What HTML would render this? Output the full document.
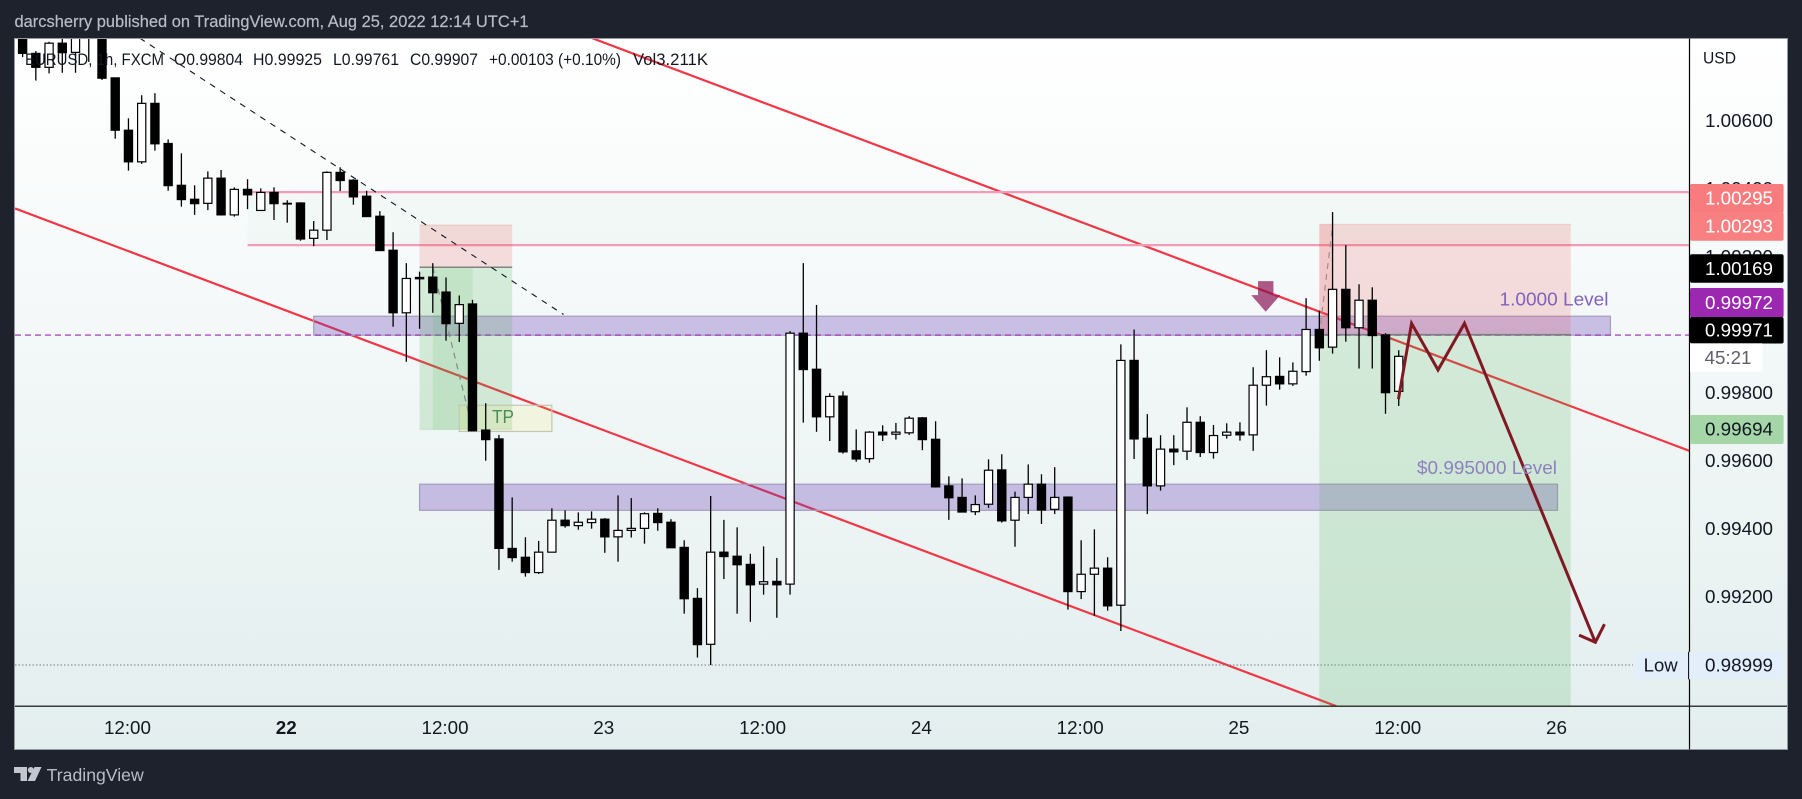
<!DOCTYPE html>
<html lang="en">
<head>
<meta charset="utf-8">
<title>EURUSD chart</title>
<style>
html,body{margin:0;padding:0;background:#1e222d;width:1802px;height:799px;overflow:hidden}
svg{display:block;font-family:"Liberation Sans",Arial,sans-serif}
</style>
</head>
<body>
<svg id="chart" xmlns="http://www.w3.org/2000/svg" width="1802" height="799" viewBox="0 0 1802 799">
  <defs>
    <linearGradient id="panelGrad" x1="0" y1="0" x2="0" y2="1">
      <stop offset="0" stop-color="#ffffff"/>
      <stop offset="1" stop-color="#e3eeee"/>
    </linearGradient>
    <clipPath id="plotClip"><rect x="15" y="39" width="1674" height="667"/></clipPath>
  </defs>
  <rect x="0" y="0" width="1802" height="799" fill="#1e222d"/>
  <text x="14.5" y="27" font-size="17" fill="#b9bcc5" stroke="#b9bcc5" stroke-width="0.2" textLength="514" lengthAdjust="spacingAndGlyphs">darcsherry published on TradingView.com, Aug 25, 2022 12:14 UTC+1</text>
  <rect x="14.5" y="38.5" width="1773" height="711" fill="url(#panelGrad)" stroke="#9598a1" stroke-width="1"/>
  <g id="ticksLayer"></g>
  <g id="timeLayer"></g>
  <g id="drawLayer" clip-path="url(#plotClip)"></g>
  <g id="candleLayer" clip-path="url(#plotClip)"></g>
  <g id="overLayer" clip-path="url(#plotClip)"></g>

  <g font-size="17" fill="#131722">
    <text x="25" y="65" textLength="139" lengthAdjust="spacingAndGlyphs">EURUSD, 1h, FXCM</text>
    <text x="174" y="65" textLength="69" lengthAdjust="spacingAndGlyphs">O0.99804</text>
    <text x="253" y="65" textLength="69" lengthAdjust="spacingAndGlyphs">H0.99925</text>
    <text x="333" y="65" textLength="66" lengthAdjust="spacingAndGlyphs">L0.99761</text>
    <text x="410" y="65" textLength="68" lengthAdjust="spacingAndGlyphs">C0.99907</text>
    <text x="489" y="65" textLength="132" lengthAdjust="spacingAndGlyphs">+0.00103 (+0.10%)</text>
    <text x="633" y="65" textLength="75" lengthAdjust="spacingAndGlyphs">Vol3.211K</text>
  </g>

  <text x="503" y="423" font-size="18" text-anchor="middle" fill="#4c8c57" textLength="22" lengthAdjust="spacingAndGlyphs">TP</text>
  <text x="1499.5" y="305.5" font-size="18" fill="#8062ba" textLength="109" lengthAdjust="spacingAndGlyphs">1.0000 Level</text>
  <text x="1417" y="474" font-size="18" fill="#8f80c0" textLength="140" lengthAdjust="spacingAndGlyphs">$0.995000 Level</text>

  <line x1="1689.5" y1="38.5" x2="1689.5" y2="749.5" stroke="#000" stroke-width="1.2"/>
  <line x1="15" y1="706.2" x2="1787" y2="706.2" stroke="#000" stroke-width="1.2"/>

  <text x="1703" y="63.5" font-size="17" fill="#131722" textLength="33" lengthAdjust="spacingAndGlyphs">USD</text>

  <g font-size="18" text-anchor="middle">
    <rect x="1690" y="184" width="93.6" height="29" rx="2" fill="#f87c7e"/>
    <text x="1739" y="204.6" fill="#ffffff" textLength="68" lengthAdjust="spacingAndGlyphs">1.00295</text>
    <rect x="1690" y="212" width="93.6" height="28.7" rx="2" fill="#f98080"/>
    <text x="1739" y="232.6" fill="#ffffff" textLength="68" lengthAdjust="spacingAndGlyphs">1.00293</text>
    <rect x="1690" y="254.3" width="93.6" height="28.4" rx="2" fill="#000000"/>
    <text x="1739" y="274.8" fill="#ffffff" textLength="68" lengthAdjust="spacingAndGlyphs">1.00169</text>
    <rect x="1690" y="288" width="93.6" height="29.5" rx="2" fill="#9c27b0"/>
    <text x="1739" y="309" fill="#ffffff" textLength="68" lengthAdjust="spacingAndGlyphs">0.99972</text>
    <rect x="1690" y="317" width="93.6" height="26.5" rx="2" fill="#000000"/>
    <text x="1739" y="336.3" fill="#ffffff" textLength="68" lengthAdjust="spacingAndGlyphs">0.99971</text>
    <rect x="1690" y="343.3" width="72.4" height="28.4" fill="#ffffff"/>
    <text x="1728" y="363.8" fill="#5d606b" textLength="47" lengthAdjust="spacingAndGlyphs">45:21</text>
    <rect x="1690" y="415" width="93.6" height="29" rx="2" fill="#a5d6a7"/>
    <text x="1739" y="435.7" fill="#131722" textLength="68" lengthAdjust="spacingAndGlyphs">0.99694</text>
    <rect x="1633.8" y="651.7" width="149.8" height="27.6" rx="2" fill="#e3eefb"/>
    <text x="1660.7" y="671.6" fill="#131722" textLength="34" lengthAdjust="spacingAndGlyphs">Low</text>
    <text x="1739" y="671.6" fill="#131722" textLength="68" lengthAdjust="spacingAndGlyphs">0.98999</text>
    <line x1="1688.6" y1="651.7" x2="1688.6" y2="679.3" stroke="#000" stroke-width="1"/>
  </g>

  <g>
    <g fill="#c3c6ce">
      <polygon points="14,767 27,767 27,781 20.5,781 20.5,773 14,773"/>
      <circle cx="30.8" cy="770" r="3"/>
      <polygon points="34.5,767 41.5,767 35,781 27.5,781"/>
    </g>
    <text x="46.7" y="781" font-size="17.5" fill="#b9bcc5" textLength="97" lengthAdjust="spacingAndGlyphs">TradingView</text>
  </g>
</svg>

<script>
// ---- chart data ----
const openPrices = [
1.00896,1.00798,1.00757,1.00828,1.00801,1.00926,1.00881,1.00726,1.00572,1.00479,
1.00651,1.00533,1.00410,1.00369,1.00357,1.00431,1.00323,1.00398,1.00336,1.00389,
1.00357,1.00358,1.00254,1.00278,1.00448,1.00425,1.00378,1.00319,1.00219,1.00035,
1.00139,1.00140,1.00096,1.00004,1.00061,.99690,.99664,.99342,.99316,.99271,
.99331,.99425,.99409,.99418,.99428,.99376,.99395,.99401,.99445,.99419,
.99345,.99195,.99060,.99331,.99319,.99295,.99237,.99245,.99237,.99975,
.99869,.99729,.99790,.99629,.99606,.99684,.99678,.99682,.99726,.99663,
.99526,.99492,.99450,.99472,.99573,.99425,.99492,.99531,.99457,.99493,
.99215,.99266,.99284,.99175,.99895,.99666,.99526,.99634,.99628,.99713,
.99624,.99675,.99684,.99676,.99822,.99848,.99826,.99862,.99986,.99934,
1.00104,.99991,1.00072,.99970,.99804];
const closePrices = [
1.00798,1.00757,1.00828,1.00800,1.00867,1.00873,1.00725,1.00572,1.00479,1.00651,
1.00532,1.00409,1.00368,1.00356,1.00431,1.00323,1.00398,1.00382,1.00389,1.00356,
1.00355,1.00252,1.00278,1.00448,1.00424,1.00376,1.00318,1.00218,1.00035,1.00136,
1.00135,1.00094,1.00003,1.00059,.99688,.99662,.99342,.99315,.99271,.99331,
.99425,.99409,.99419,.99428,.99376,.99395,.99401,.99444,.99418,.99344,
.99194,.99059,.99331,.99318,.99294,.99235,.99244,.99235,.99975,.99868,
.99729,.99789,.99626,.99605,.99684,.99676,.99684,.99725,.99662,.99523,
.99491,.99449,.99471,.99572,.99423,.99492,.99531,.99455,.99492,.99215,
.99266,.99284,.99173,.99895,.99664,.99526,.99634,.99626,.99713,.99624,
.99674,.99684,.99676,.99822,.99847,.99826,.99863,.99986,.99932,1.00104,
.99991,1.00072,.99968,.99800,.99907];
const highPrices = [
1.00926,1.00805,1.00832,1.00867,1.00896,1.00940,1.00911,1.00727,1.00607,1.00675,
1.00681,1.00545,1.00504,1.00410,1.00451,1.00455,1.00404,1.00428,1.00401,1.00404,
1.00366,1.00360,1.00305,1.00451,1.00463,1.00428,1.00394,1.00334,1.00272,1.00181,
1.00156,1.00181,1.00139,1.00086,1.00073,.99769,.99676,.99492,.99375,.99364,
.99460,.99454,.99448,.99451,.99431,.99498,.99490,.99448,.99460,.99428,
.99366,.99225,.99496,.99426,.99404,.99326,.99348,.99314,.99981,1.00181,
1.00058,.99798,.99804,.99692,.99687,.99704,.99711,.99731,.99728,.99716,
.99554,.99548,.99498,.99604,.99619,.99509,.99589,.99560,.99581,.99495,
.99366,.99398,.99316,.99942,.99986,.99737,.99675,.99675,.99757,.99731,
.99705,.99710,.99713,.99875,.99925,.99904,.99889,1.00078,1.00041,1.00331,
1.00234,1.00119,1.00110,.99975,.99925];
const lowPrices = [
1.00787,1.00718,1.00739,1.00741,1.00741,1.00773,1.00720,1.00547,1.00453,1.00473,
1.00512,1.00394,1.00347,1.00323,1.00337,1.00321,1.00318,1.00340,1.00336,1.00308,
1.00300,1.00247,1.00231,1.00249,1.00393,1.00353,1.00318,1.00218,.99994,.99891,
.99988,1.00035,.99953,.99949,.99688,.99600,.99279,.99303,.99259,.99267,
.99331,.99403,.99397,.99400,.99329,.99303,.99374,.99356,.99394,.99344,
.99150,.99021,.98999,.99252,.99150,.99126,.99206,.99138,.99206,.99712,
.99685,.99658,.99621,.99597,.99594,.99658,.99662,.99676,.99631,.99521,
.99426,.99449,.99440,.99461,.99418,.99347,.99443,.99414,.99443,.99162,
.99193,.99144,.99159,.99099,.99605,.99443,.99512,.99587,.99602,.99611,
.99606,.99665,.99659,.99629,.99762,.99809,.99820,.99850,.99894,.99915,
.99950,.99871,.99871,.99738,.99761];

const priceTicks = [1.006,1.004,1.002,1.000,0.998,0.996,0.994,0.992,0.990];
const timeTickBars = [8,20,32,44,56,68,80,92,104,116];
const timeTickLabels = ["12:00","22","12:00","23","12:00","24","12:00","25","12:00","26"];

// drawings, expressed in bar index / price
const purpleZoneBars = [22,120,30,116];
const purpleZonePrices = [1.00025,0.99969,0.99531,0.99454];
const resistanceBandBars = [17,126.5];
const resistanceBandPrices = [1.00390,1.00234];
const shortBoxBars = [30,37,98,117];
const shortBoxPrices = [1.00293,1.00169,0.99692,1.00295,0.99971,0.98800];
const progressBars = [31,34,98,99];
const tpBoxBars = [33,40];
const tpBoxPrices = [0.99763,0.99686];
const currentPrice = 0.99971;
const lowPrice = 0.98999;
const dottedTrendBars = [8.85,40.88];
const dottedTrendPrices = [1.00843,1.00030];
const channelBars = [-0.574,99.28,43.03,125.97];
const channelPrices = [1.00342,0.98878,1.00843,0.99629];
const tradePath1Bars = [31,34];
const tradePath1Prices = [1.00169,0.99694];
const tradePath2Bars = [98,99];
const tradePath2Prices = [0.99971,1.00290];
const zigzagBars = [103.98,104.97,106.97,108.97,118.86];
const zigzagPrices = [0.99781,1.00004,0.99867,1.00004,0.99066];
const arrowHeadBars = [117.63,118.86,119.55];
const arrowHeadPrices = [0.99087,0.99066,0.99119];
const signalArrowBar = 93.95;
const signalArrowPrice = 1.00038;

// ---- axis functions ----
const SVGNS = 'http://www.w3.org/2000/svg';
const barX = b => 22.6 + 13.232 * b;
const priceY = p => 392.7 - (p - 0.998) * 34000;
const PLOT_L = 15, PLOT_R = 1689;

function mk(tag, attrs, parent){
  const e = document.createElementNS(SVGNS, tag);
  for (const k in attrs) e.setAttribute(k, attrs[k]);
  parent.appendChild(e);
  return e;
}
function rectBetween(b1, b2, p1, p2, attrs, parent){
  const x1 = barX(b1), x2 = barX(b2), y1 = priceY(p1), y2 = priceY(p2);
  return mk('rect', Object.assign({x:x1, y:Math.min(y1,y2), width:x2-x1, height:Math.abs(y2-y1)}, attrs), parent);
}
function lineBetween(b1, p1, b2, p2, attrs, parent){
  return mk('line', Object.assign({x1:barX(b1), y1:priceY(p1), x2:barX(b2), y2:priceY(p2)}, attrs), parent);
}
function pointsOf(bars, prices){
  return bars.map((b,i) => barX(b) + ',' + priceY(prices[i])).join(' ');
}

const ticksLayer = document.getElementById('ticksLayer');
const timeLayer = document.getElementById('timeLayer');
const drawLayer = document.getElementById('drawLayer');
const candleLayer = document.getElementById('candleLayer');
const overLayer = document.getElementById('overLayer');

// price ticks
priceTicks.forEach(p => {
  const t = mk('text', {x:1739, y:priceY(p)+6.3, 'font-size':18, 'text-anchor':'middle', fill:'#131722', textLength:68, lengthAdjust:'spacingAndGlyphs'}, ticksLayer);
  t.textContent = p.toFixed(5);
  
  
});

// time ticks
timeTickBars.forEach((b,i) => {
  const label = timeTickLabels[i];
  const t = mk('text', {x:barX(b)-1, y:734, 'font-size':18, 'text-anchor':'middle', fill:'#131722', textLength: label.length > 2 ? 47 : 21, lengthAdjust:'spacingAndGlyphs'}, timeLayer);
  if (label === '22') t.setAttribute('font-weight', 'bold');
  t.textContent = label;
  
  
});

// channel lines
const channelA = lineBetween(channelBars[0], channelPrices[0], channelBars[1], channelPrices[1], {stroke:'#f23645', 'stroke-width':2.2}, drawLayer);


const channelB = lineBetween(channelBars[2], channelPrices[2], channelBars[3], channelPrices[3], {stroke:'#f23645', 'stroke-width':2.2}, drawLayer);



// resistance band with pink edges
const band = rectBetween(resistanceBandBars[0], resistanceBandBars[1], resistanceBandPrices[0], resistanceBandPrices[1], {fill:'rgba(76,175,80,0.03)'}, drawLayer);


resistanceBandPrices.forEach(p => {
  const l = lineBetween(resistanceBandBars[0], p, resistanceBandBars[1], p, {stroke:'#f29ab6', 'stroke-width':2.2}, drawLayer);
  
  
});

// purple zones
const zone1 = rectBetween(purpleZoneBars[0], purpleZoneBars[1], purpleZonePrices[0], purpleZonePrices[1], {fill:'rgba(103,58,183,0.3)', stroke:'#a69dbd', 'stroke-width':1.2}, drawLayer);


const zone2 = rectBetween(purpleZoneBars[2], purpleZoneBars[3], purpleZonePrices[2], purpleZonePrices[3], {fill:'rgba(103,58,183,0.3)', stroke:'#a69dbd', 'stroke-width':1.2}, drawLayer);



// current and low price lines
const curLine = mk('line', {x1:PLOT_L, y1:priceY(currentPrice)+0.5, x2:PLOT_R, y2:priceY(currentPrice)+0.5, stroke:'#9c27b0', 'stroke-width':1.1, 'stroke-dasharray':'6 4'}, drawLayer);


const lowLine = mk('line', {x1:PLOT_L, y1:priceY(lowPrice), x2:1633, y2:priceY(lowPrice), stroke:'#787b86', 'stroke-width':1, 'stroke-dasharray':'1.5 2'}, drawLayer);



// position boxes
const REDFILL = 'rgba(235,70,70,0.17)';
const GREENFILL = 'rgba(76,175,80,0.19)';
// first short position
const box1Red = rectBetween(shortBoxBars[0], shortBoxBars[1], shortBoxPrices[0], shortBoxPrices[1], {fill:REDFILL}, drawLayer);


const box1Green = rectBetween(shortBoxBars[0], shortBoxBars[1], shortBoxPrices[1], shortBoxPrices[2], {fill:GREENFILL}, drawLayer);


const box1Progress = rectBetween(progressBars[0], progressBars[1], shortBoxPrices[1], shortBoxPrices[2], {fill:'rgba(76,175,80,0.13)'}, drawLayer);


const box1Top = lineBetween(shortBoxBars[0], shortBoxPrices[0], shortBoxBars[1], shortBoxPrices[0], {stroke:'rgba(235,70,70,0.15)', 'stroke-width':1.4}, drawLayer);


const box1Bottom = lineBetween(shortBoxBars[0], shortBoxPrices[2], shortBoxBars[1], shortBoxPrices[2], {stroke:'rgba(76,175,80,0.15)', 'stroke-width':1.4}, drawLayer);


const box1Entry = lineBetween(shortBoxBars[0], shortBoxPrices[1], shortBoxBars[1], shortBoxPrices[1], {stroke:'#808483', 'stroke-width':1.6}, drawLayer);


const box1Path = lineBetween(tradePath1Bars[0], tradePath1Prices[0], tradePath1Bars[1], tradePath1Prices[1], {stroke:'#808a85', 'stroke-width':1.2, 'stroke-dasharray':'6 5'}, drawLayer);


// second short position
const box2Red = rectBetween(shortBoxBars[2], shortBoxBars[3], shortBoxPrices[3], shortBoxPrices[4], {fill:REDFILL}, drawLayer);


const box2Green = rectBetween(shortBoxBars[2], shortBoxBars[3], shortBoxPrices[4], shortBoxPrices[5], {fill:GREENFILL}, drawLayer);


const box2Progress = rectBetween(progressBars[2], progressBars[3], shortBoxPrices[3], shortBoxPrices[4], {fill:'rgba(235,70,70,0.13)'}, drawLayer);


const box2Top = lineBetween(shortBoxBars[2], shortBoxPrices[3], shortBoxBars[3], shortBoxPrices[3], {stroke:'rgba(235,70,70,0.15)', 'stroke-width':1.4}, drawLayer);


const box2Entry = lineBetween(shortBoxBars[2], shortBoxPrices[4], shortBoxBars[3], shortBoxPrices[4], {stroke:'#7d7f7c', 'stroke-width':1.4}, drawLayer);


const box2Path = lineBetween(tradePath2Bars[0], tradePath2Prices[0], tradePath2Bars[1], tradePath2Prices[1], {stroke:'#9a9093', 'stroke-width':1.2, 'stroke-dasharray':'6 5'}, drawLayer);



// TP box
const tpBox = rectBetween(tpBoxBars[0], tpBoxBars[1], tpBoxPrices[0], tpBoxPrices[1], {fill:'rgba(255,235,59,0.12)', stroke:'#c3c6b4', 'stroke-width':1.2}, drawLayer);



// dashed trend line
const trend = lineBetween(dottedTrendBars[0], dottedTrendPrices[0], dottedTrendBars[1], dottedTrendPrices[1], {stroke:'#131722', 'stroke-width':1.1, 'stroke-dasharray':'6 6'}, drawLayer);



// candles
openPrices.forEach((o,i) => {
  const c = closePrices[i], x = barX(i);
  const up = c >= o;
  const top = priceY(Math.max(o,c)), bot = priceY(Math.min(o,c));
  const g = mk('g', {}, candleLayer);
  
  
  const w = mk('line', {x1:x, x2:x, y1:priceY(highPrices[i]), y2:priceY(lowPrices[i]), stroke:'#000', 'stroke-width':1.3}, g);
  
  
  const b = mk('rect', {x:x-4.1, y:top, width:8.2, height:Math.max(bot-top,0.6), fill: up ? '#ffffff' : '#000000', stroke:'#000', 'stroke-width':1.2}, g);
  
  
});

// signal arrow (pink, over the chart)
const ax = barX(signalArrowBar), ay = priceY(signalArrowPrice);
const signal = mk('polygon', {points:[[ax-7.7,ay-30.7],[ax+7.7,ay-30.7],[ax+7.7,ay-16.7],[ax+14.5,ay-16.7],[ax,ay],[ax-14.5,ay-16.7],[ax-7.7,ay-16.7]].map(p=>p.join(',')).join(' '), fill:'rgba(136,14,79,0.68)'}, overLayer);



// projected path
const zig = mk('polyline', {points:pointsOf(zigzagBars, zigzagPrices), fill:'none', stroke:'#801922', 'stroke-width':3, 'stroke-linejoin':'miter'}, overLayer);


const head = mk('polyline', {points:pointsOf(arrowHeadBars, arrowHeadPrices), fill:'none', stroke:'#801922', 'stroke-width':3}, overLayer);


</script>
</body>
</html>
